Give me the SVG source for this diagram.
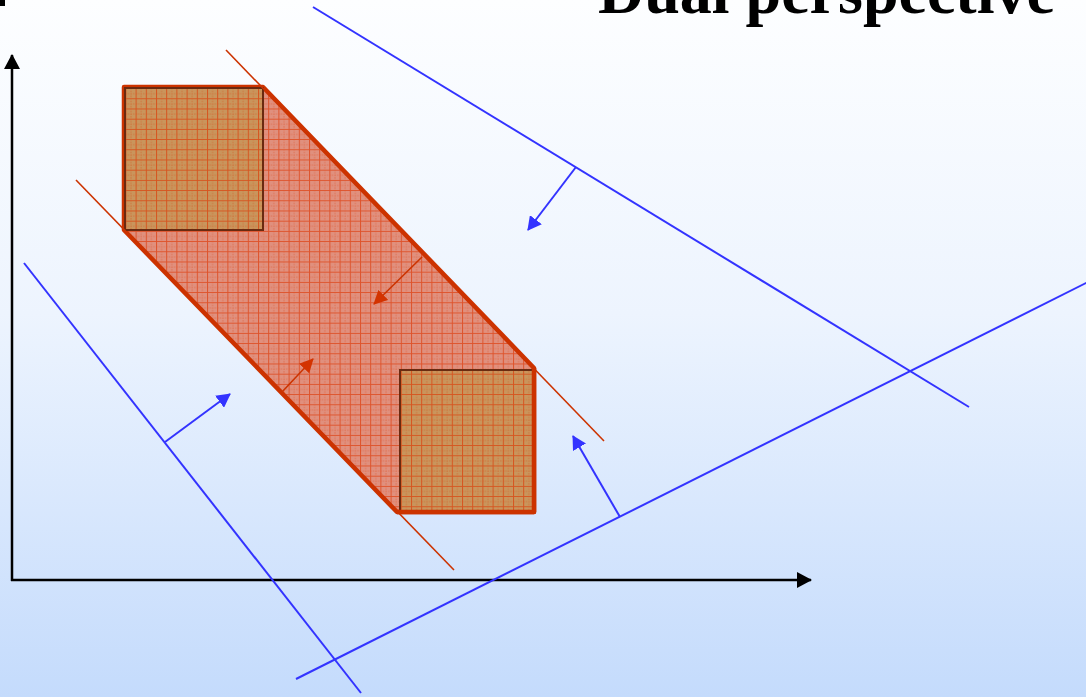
<svg xmlns="http://www.w3.org/2000/svg" width="1086" height="697" viewBox="0 0 1086 697">
<defs>
<linearGradient id="bg" x1="0" y1="0" x2="0" y2="1">
<stop offset="0" stop-color="#FDFEFF"/>
<stop offset="0.45" stop-color="#EDF4FE"/>
<stop offset="1" stop-color="#C4DBFC"/>
</linearGradient>
<pattern id="grid" patternUnits="userSpaceOnUse" x="3" y="6.5" width="10.2" height="10.2">
<path d="M0.5 0V10.2M0 0.5H10.2" stroke="#DD3300" stroke-width="1" fill="none"/>
<path d="M5.6 0V10.2M0 5.6H10.2" stroke="#DD3300" stroke-width="1" stroke-dasharray="1.5 1" stroke-opacity="0.5" fill="none"/>
</pattern>
<marker id="ab" viewBox="0 0 14 15" refX="13" refY="7.5" markerWidth="14" markerHeight="15" orient="auto" markerUnits="userSpaceOnUse"><path d="M0 0L14 7.5L0 15Z" fill="#3333FF"/></marker>
<marker id="ao" viewBox="0 0 14 14" refX="13" refY="7" markerWidth="14" markerHeight="14" orient="auto" markerUnits="userSpaceOnUse"><path d="M0 0L14 7L0 14Z" fill="#D33300"/></marker>
<marker id="ak" viewBox="0 0 15 16" refX="14" refY="8" markerWidth="15" markerHeight="16" orient="auto" markerUnits="userSpaceOnUse"><path d="M0 0L15 8L0 16Z" fill="#000"/></marker>
</defs>
<style>
.blue{stroke:#3333FF;stroke-width:2;fill:none}
.orl{stroke:#CC3300;stroke-width:1.6;fill:none}
.axis{stroke:#000;stroke-width:2.5;fill:none}
.title{font-family:"Liberation Serif",serif;font-weight:bold;font-size:64px;fill:#000}
</style>
<rect width="1086" height="697" fill="url(#bg)"/>
<rect x="0" y="0" width="5" height="6" fill="#000"/>
<text class="title" x="598" y="13">Dual perspective</text>

<g id="axes">
<line class="axis" x1="12" y1="581" x2="12" y2="55" marker-end="url(#ak)"/>
<line class="axis" x1="11" y1="580" x2="811" y2="580" marker-end="url(#ak)"/>
</g>

<g id="feasible-region">
<path d="M124 87H263L534 368V512H397L124 230Z" fill="#E0907E"/>
<path d="M124 87H263L534 368V512H397L124 230Z" fill="url(#grid)" fill-opacity="0.65"/>
<path d="M124 87H263L534 368V512H397L124 230Z" fill="none" stroke="#CC3300" stroke-width="4.5" stroke-linejoin="round"/>
</g>
<g id="square-top">
<rect x="125" y="88" width="138" height="142" fill="#C9955C"/>
<rect x="125" y="88" width="138" height="142" fill="url(#grid)" fill-opacity="0.65"/>
<rect x="125" y="88" width="138" height="142" fill="none" stroke="#6A2A10" stroke-width="2"/>
</g>
<g id="square-bottom">
<rect x="400" y="370" width="133" height="141" fill="#C9955C"/>
<rect x="400" y="370" width="133" height="141" fill="url(#grid)" fill-opacity="0.65"/>
<rect x="400" y="370" width="133" height="141" fill="none" stroke="#6A2A10" stroke-width="2"/>
<path d="M534 368V512H397" fill="none" stroke="#CC3300" stroke-width="4.5" stroke-linejoin="round"/>
</g>

<g id="connectors">
<line class="orl" x1="226" y1="50" x2="604" y2="441"/>
<line class="orl" x1="76" y1="180" x2="454" y2="570"/>
<line class="orl" x1="422" y1="257" x2="374" y2="304" stroke-width="2" marker-end="url(#ao)"/>
<line class="orl" x1="282" y1="392" x2="313" y2="359" stroke-width="2" marker-end="url(#ao)"/>
<line class="blue" x1="313" y1="7" x2="969" y2="407"/>
<line class="blue" x1="24" y1="263" x2="361" y2="693"/>
<line class="blue" x1="296" y1="679" x2="1090" y2="281"/>
<line class="blue" x1="576" y1="167" x2="528" y2="230" marker-end="url(#ab)"/>
<line class="blue" x1="165" y1="442" x2="230" y2="394" marker-end="url(#ab)"/>
<line class="blue" x1="620" y1="517" x2="573" y2="436" marker-end="url(#ab)"/>
</g>
</svg>
